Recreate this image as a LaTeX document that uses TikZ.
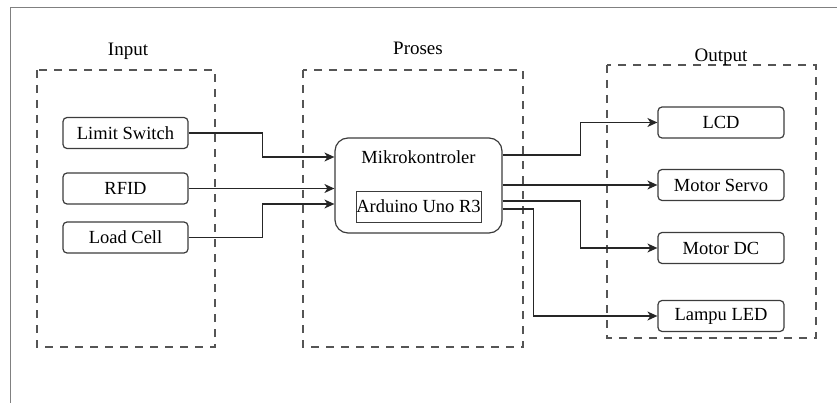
\documentclass[tikz,border=0pt]{standalone}
\usepackage{fontspec}
\setmainfont{Liberation Serif}
\usetikzlibrary{arrows.meta}
\definecolor{framegray}{RGB}{128,128,128}
\definecolor{dashgray}{RGB}{85,85,85}
\definecolor{boxgray}{RGB}{60,60,60}
\tikzset{
  blk/.style={draw=boxgray, line width=1.2pt, rounded corners=4pt, minimum width=125pt, minimum height=31pt, inner sep=0pt, font=\fontsize{18.5}{22}\selectfont},
  grp/.style={draw=dashgray, line width=1.1pt, dash pattern=on 8pt off 7pt},
  ttl/.style={font=\fontsize{19}{23}\selectfont, inner sep=0pt},
  conn/.style={draw=black!85, line width=1.4pt, -{Stealth[length=10pt,width=9pt,inset=3pt]}},
  lbl/.style={font=\fontsize{18.5}{22}\selectfont, inner sep=0pt}
}
\begin{document}
\begin{tikzpicture}[x=1pt,y=-1pt]
\useasboundingbox (0,0) rectangle (837,403);
\draw[framegray, line width=1pt] (10.5,403) -- (10.5,7.5) -- (837,7.5);
% groups
\draw[grp] (37,70) rectangle (215,347);
\draw[grp] (303,70) rectangle (523,347);
\draw[grp] (607,65) rectangle (816,338);
\node[ttl, anchor=base] (tin) at (128,56) {Input};
\node[ttl, anchor=base] (tpr) at (418,55) {Proses};
\node[ttl, anchor=base] (tout) at (721,62) {Output};
% inputs
\node[blk] (ls) at (125.5,133) {Limit Switch};
\node[blk] (rf) at (125.5,188.5) {RFID};
\node[blk] (lc) at (125.5,237.5) {Load Cell};
% processor
\node[draw=boxgray, line width=1.2pt, rounded corners=13pt, minimum width=167pt, minimum height=95pt, inner sep=0pt] (mk) at (418.5,185.5) {};
\node[lbl] (mkt) at (418.5,157) {Mikrokontroler};
\node[draw=boxgray, line width=0.9pt, minimum width=125pt, minimum height=31pt, inner sep=0pt, font=\fontsize{18.5}{22}\selectfont] (ard) at (418.5,206.5) {Arduino Uno R3};
% outputs
\node[blk, minimum width=126pt] (lcd) at (721,122.5) {LCD};
\node[blk, minimum width=126pt] (sv) at (721,185) {Motor Servo};
\node[blk, minimum width=126pt] (dc) at (721,248) {Motor DC};
\node[blk, minimum width=126pt] (led) at (721,316) {Lampu LED};
% input connectors
\draw[conn] (ls.east) -- ++(74,0) |- ([yshift=28.5pt]mk.west);
\draw[conn] (rf.east) -- (rf.east -| mk.west);
\draw[conn] (lc.east) -- ++(74,0) |- ([yshift=-18.5pt]mk.west);
% output connectors
\draw[conn] ([yshift=30.5pt]mk.east) -- ++(78,0) |- (lcd.west);
\draw[conn] (sv.west -| mk.east) -- (sv.west);
\draw[conn] ([yshift=-15.5pt]mk.east) -- ++(78,0) |- (dc.west);
\draw[conn] ([yshift=-23.5pt]mk.east) -- ++(31,0) |- (led.west);
\end{tikzpicture}
\end{document}
